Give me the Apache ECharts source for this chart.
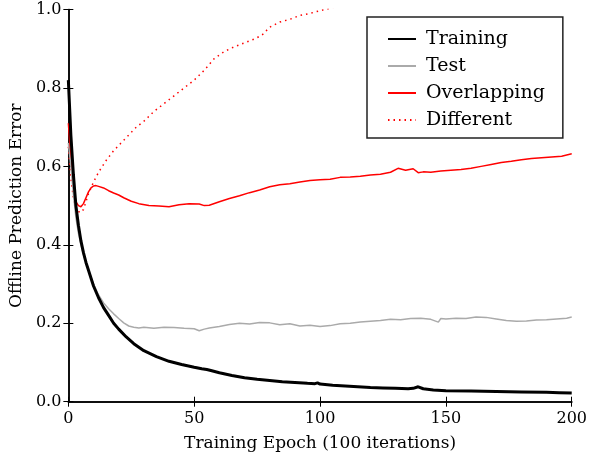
<!DOCTYPE html>
<html>
<head>
<meta charset="utf-8">
<script src="https://cdn.jsdelivr.net/npm/echarts@6/dist/echarts.min.js"></script>
<style>
  html, body { margin: 0; padding: 0; background: #fff; }
  #chart { width: 590px; height: 459px; }
</style>
</head>
<body>
<div id="chart"></div>
<script>
// Offline prediction error over training epochs
const trainingEpochs = [0,1,2,3,4,5,6,7,8,10,12,14,16,18,20,23,26,30,35,40,45,50,53,55,57,60,65,70,75,80,85,90,95,98,99,100,105,110,115,120,125,130,135,137,139,141,145,150,160,170,180,190,195,200];
const trainingError  = [0.82,0.68,0.58,0.50,0.45,0.41,0.38,0.355,0.335,0.295,0.265,0.24,0.22,0.20,0.185,0.165,0.148,0.13,0.115,0.103,0.095,0.088,0.084,0.082,0.079,0.074,0.067,0.061,0.057,0.054,0.051,0.049,0.047,0.046,0.048,0.045,0.042,0.040,0.038,0.036,0.035,0.034,0.033,0.034,0.038,0.033,0.030,0.028,0.027,0.026,0.025,0.024,0.023,0.022];

const testEpochs = [0,1,2,3,4,5,6,8,10,12,14,16,18,20,22,24,26,28,30,34,38,42,46,50,52,54,56,60,64,68,72,76,80,84,88,92,96,100,104,108,112,116,120,124,128,132,136,140,144,147,148,150,154,158,162,166,170,174,178,182,186,190,194,198,200];
const testError  = [0.66,0.6,0.53,0.47,0.43,0.40,0.375,0.335,0.30,0.272,0.252,0.237,0.224,0.212,0.201,0.193,0.19,0.188,0.19,0.187,0.19,0.189,0.187,0.186,0.181,0.185,0.188,0.192,0.197,0.2,0.198,0.202,0.201,0.196,0.199,0.193,0.195,0.192,0.194,0.199,0.2,0.203,0.205,0.207,0.21,0.209,0.212,0.213,0.21,0.203,0.212,0.211,0.213,0.212,0.216,0.215,0.211,0.207,0.205,0.206,0.208,0.209,0.211,0.213,0.216];

const overlapEpochs = [0,1,2,3,4,5,6,7,8,9,10,11,12,14,16,18,20,22,25,28,32,36,40,44,48,52,54,56,60,64,68,72,76,80,84,88,92,96,100,104,108,112,116,120,124,128,131,134,137,139,141,144,148,152,156,160,164,168,172,176,180,184,188,192,196,200];
const overlapError  = [0.71,0.62,0.55,0.51,0.50,0.497,0.505,0.52,0.535,0.545,0.55,0.551,0.549,0.545,0.538,0.532,0.527,0.52,0.511,0.505,0.5,0.499,0.497,0.502,0.505,0.504,0.5,0.501,0.51,0.518,0.525,0.533,0.54,0.548,0.553,0.556,0.56,0.564,0.566,0.567,0.572,0.573,0.575,0.578,0.58,0.585,0.595,0.59,0.594,0.584,0.586,0.585,0.588,0.59,0.592,0.595,0.6,0.605,0.61,0.613,0.617,0.62,0.622,0.624,0.626,0.632];

const differentEpochs = [0,1,2,3,4,5,6,7,8,10,12,15,18,21,24,27,30,34,38,42,46,50,54,58,62,66,70,74,77,80,84,88,92,96,100,102,104,108];
const differentError  = [0.65,0.57,0.52,0.495,0.485,0.482,0.49,0.51,0.53,0.56,0.585,0.615,0.64,0.66,0.68,0.7,0.715,0.74,0.76,0.78,0.8,0.82,0.845,0.875,0.893,0.905,0.915,0.925,0.935,0.955,0.968,0.975,0.985,0.99,0.997,1.0,1.003,1.01];

const seriesNames = ['Training', 'Test', 'Overlapping', 'Different'];
const xTicks = { min: 0, max: 200, interval: 50 };
const yTicks = { min: 0, max: 1, interval: 0.2 };

const pairs = (xs, ys) => xs.map((x, i) => [x, ys[i]]);
const FONT = 'DejaVu Serif';

// box frame with inward ticks on all four sides
const frameAxis = {
  axisLine: { show: true, lineStyle: { color: '#000', width: 1.5 } },
  axisTick: { show: true, inside: true, length: 5, lineStyle: { color: '#000', width: 1 } },
  splitLine: { show: false }
};

const chart = echarts.init(document.getElementById('chart'), null, { renderer: 'canvas' });
chart.setOption({
  animation: false,
  backgroundColor: '#fff',
  grid: { left: 67.5, right: 16, top: 9.5, bottom: 57.3, containLabel: false },
  legend: {
    orient: 'vertical',
    left: 367, top: 17,
    padding: [12, 18, 8, 20],
    borderColor: '#222', borderWidth: 1.5,
    // a tiny item height keeps the legend marker to a plain line sample
    itemWidth: 28, itemHeight: 0.5, itemGap: 7,
    textStyle: { fontFamily: FONT, fontSize: 19, color: '#000', lineHeight: 20, padding: [0, 0, 0, 5] },
    data: seriesNames
  },
  xAxis: [
    Object.assign({
      type: 'value', position: 'bottom', min: xTicks.min, max: xTicks.max, interval: xTicks.interval,
      name: 'Training Epoch (100 iterations)', nameLocation: 'middle', nameGap: 33,
      nameTextStyle: { fontFamily: FONT, fontSize: 17, color: '#000' },
      axisLabel: { fontFamily: FONT, fontSize: 16, color: '#000', margin: 9 }
    }, frameAxis),
    Object.assign({
      type: 'value', position: 'top', min: xTicks.min, max: xTicks.max, interval: xTicks.interval,
      axisLabel: { show: false }
    }, frameAxis)
  ],
  yAxis: [
    Object.assign({
      type: 'value', position: 'left', min: yTicks.min, max: yTicks.max, interval: yTicks.interval,
      name: 'Offline Prediction Error', nameLocation: 'middle', nameGap: 39,
      nameTextStyle: { fontFamily: FONT, fontSize: 17, color: '#000' },
      axisLabel: { fontFamily: FONT, fontSize: 16, color: '#000', margin: 7, formatter: v => v.toFixed(1) }
    }, frameAxis),
    Object.assign({
      type: 'value', position: 'right', min: yTicks.min, max: yTicks.max, interval: yTicks.interval,
      axisLabel: { show: false }
    }, frameAxis)
  ],
  series: [
    {
      name: seriesNames[0], type: 'line', symbol: 'none', clip: true, z: 5,
      data: pairs(trainingEpochs, trainingError),
      lineStyle: { color: '#000', width: 3 }, itemStyle: { color: '#000' }
    },
    {
      name: seriesNames[1], type: 'line', symbol: 'none', clip: true, z: 4,
      data: pairs(testEpochs, testError),
      lineStyle: { color: '#aaaaaa', width: 1.5 }, itemStyle: { color: '#aaaaaa' }
    },
    {
      name: seriesNames[2], type: 'line', symbol: 'none', clip: true, z: 3,
      data: pairs(overlapEpochs, overlapError),
      lineStyle: { color: '#ff0000', width: 1.5 }, itemStyle: { color: '#ff0000' }
    },
    {
      name: seriesNames[3], type: 'line', symbol: 'none', clip: true, z: 3,
      data: pairs(differentEpochs, differentError),
      lineStyle: { color: '#ff0000', width: 1.5, type: [1.5, 4] }, itemStyle: { color: '#ff0000' }
    }
  ]
});
</script>
</body>
</html>
